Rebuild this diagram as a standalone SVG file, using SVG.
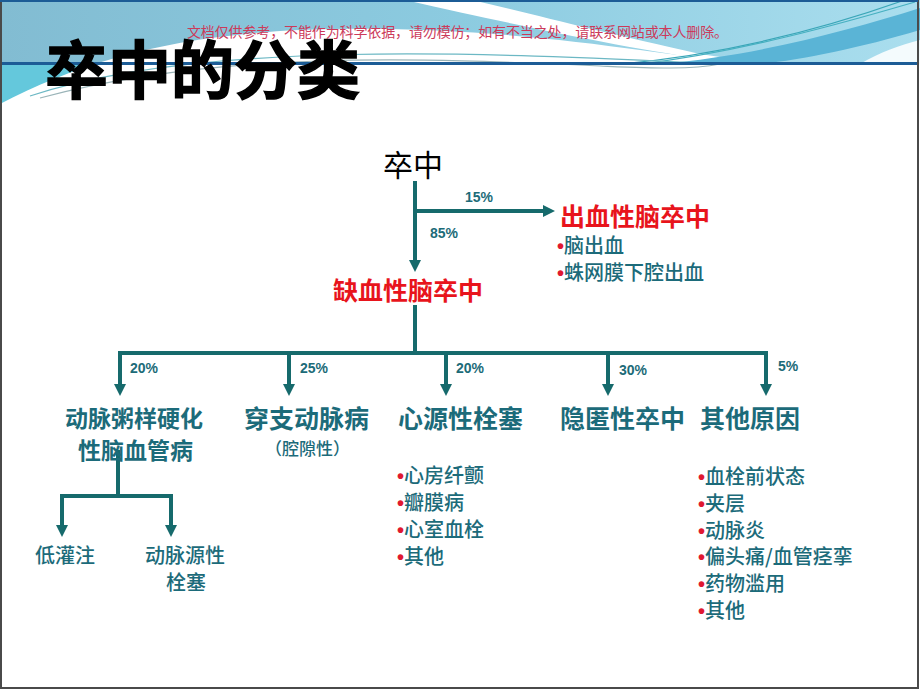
<svg xmlns="http://www.w3.org/2000/svg" width="920" height="690" viewBox="0 0 920 690">
<defs>
<linearGradient id="hdr" x1="0" y1="0" x2="1" y2="0">
<stop offset="0" stop-color="#82bcd2"/>
<stop offset="0.5" stop-color="#8ccbe0"/>
<stop offset="1" stop-color="#aadeee"/>
</linearGradient>
<marker id="arr" viewBox="0 0 12 12" markerWidth="12" markerHeight="12" markerUnits="userSpaceOnUse" refX="1" refY="6" orient="auto">
<path d="M0,0 L12,6 L0,12 Z" fill="#166a6c"/>
</marker>
<style>
.ln{fill:none;stroke:#166a6c;stroke-width:4;marker-end:url(#arr)}
.ln0{fill:none;stroke:#166a6c;stroke-width:4}
.pct{font-family:"Liberation Sans",Arial,sans-serif;font-weight:bold;font-size:14px;fill:#1c6b78}
.nd{font-family:"Noto Sans CJK SC",sans-serif;font-weight:bold;fill:#1c6b7a}
.tx{font-family:"Noto Sans CJK SC",sans-serif;font-weight:500;fill:#1c6b7a;font-size:20px}
.red{font-family:"Noto Sans CJK SC",sans-serif;font-weight:bold;fill:#e8141c;font-size:25px}
.bul{fill:#e01830;font-family:"Liberation Sans",sans-serif;font-weight:bold}
</style>
</defs>
<rect width="920" height="690" fill="#ffffff"/>
<!-- header -->
<rect x="0" y="0" width="920" height="64" fill="url(#hdr)"/>
<rect x="0" y="64" width="160" height="50" fill="#64c8dc"/>
<path d="M0,104 C80,62 170,36 300,30 C420,25 540,36 640,50 C690,57 730,62 780,64 L780,120 L0,120 Z" fill="#ffffff"/>
<path d="M405,0 L472,0 C540,16 600,32 700,54 L760,63 L730,63 C640,50 560,35 405,0 Z" fill="#ffffff"/>
<path d="M660,64 C760,55 850,30 920,8 L920,30 C860,48 800,60 760,64 Z" fill="#5ab4d6"/>
<path d="M860,64 C880,52 900,45 920,40 L920,64 Z" fill="#f4fbfd"/>
<g fill="none" stroke-width="1.2">
<path d="M620,64 C720,55 820,30 905,0" stroke="#3aa6b8"/>
<path d="M640,64 C740,52 840,24 915,2" stroke="#46b0c0"/>
<path d="M30,96 C200,40 480,52 720,64" stroke="#6cb8c4"/>
<path d="M40,98 C220,50 420,58 600,66 C650,68 690,70 720,64" stroke="#9ab4b8"/>
</g>
<rect x="0" y="62" width="918" height="3" fill="#1c5c96"/>
<rect x="1" y="1" width="917" height="687" fill="none" stroke="#4a4a4a" stroke-width="2"/>
<rect x="0" y="0" width="918" height="2" fill="#1c5c96"/>
<text x="187" y="37" font-family="Noto Sans CJK SC, sans-serif" font-size="14" fill="#cc3a5a" textLength="541">文档仅供参考，不能作为科学依据，请勿模仿；如有不当之处，请联系网站或本人删除。</text>
<text x="45" y="93" font-family="Noto Sans CJK SC, sans-serif" font-weight="bold" font-size="63" fill="#000" stroke="#000" stroke-width="1.5">卒中的分类</text>

<!-- connectors -->
<g id="connectors">
<path class="ln" d="M415,181 V261"/>
<path class="ln" d="M415,211 H544"/>
<path class="ln0" d="M415,305 V353"/>
<path class="ln0" d="M118,353 H768"/>
<path class="ln" d="M120,351 V385"/>
<path class="ln" d="M289,351 V385"/>
<path class="ln" d="M446,351 V385"/>
<path class="ln" d="M608,351 V385"/>
<path class="ln" d="M766,351 V385"/>
<path class="ln0" d="M118,450 V496"/>
<path class="ln0" d="M60,496 H173"/>
<path class="ln" d="M62,494 V526"/>
<path class="ln" d="M171,494 V526"/>
</g>
<g id="pct">
<text class="pct" x="465" y="202">15%</text>
<text class="pct" x="430" y="238">85%</text>
<text class="pct" x="130" y="373">20%</text>
<text class="pct" x="300" y="373">25%</text>
<text class="pct" x="456" y="373">20%</text>
<text class="pct" x="619" y="375">30%</text>
<text class="pct" x="778" y="371">5%</text>
</g>

<g id="root"><text x="383" y="176" font-family="Noto Sans CJK SC, sans-serif" font-size="30" fill="#000">卒中</text></g>
<g id="hemorrhagic">
<text class="red" x="560" y="226">出血性脑卒中</text>
<text class="tx" x="557" y="253"><tspan class="bul">•</tspan>脑出血</text>
<text class="tx" x="557" y="280"><tspan class="bul">•</tspan>蛛网膜下腔出血</text>
</g>
<g id="ischemic"><text class="red" x="333" y="299.5">缺血性脑卒中</text></g>
<g id="athero">
<text class="nd" x="65" y="427" font-size="23">动脉粥样硬化</text>
<text class="nd" x="78" y="459" font-size="23">性脑血管病</text>
</g>
<g id="perforating">
<text class="nd" x="244" y="427.5" font-size="25">穿支动脉病</text>
<text class="tx" x="265" y="454.5" style="font-size:17px">（腔隙性）</text>
</g>
<g id="cardio">
<text class="nd" x="398" y="427.5" font-size="25">心源性栓塞</text>
<text class="tx" x="397" y="482.6"><tspan class="bul">•</tspan>心房纤颤</text>
<text class="tx" x="397" y="509.6"><tspan class="bul">•</tspan>瓣膜病</text>
<text class="tx" x="397" y="536.6"><tspan class="bul">•</tspan>心室血栓</text>
<text class="tx" x="397" y="563.6"><tspan class="bul">•</tspan>其他</text>
</g>
<g id="cryptogenic"><text class="nd" x="560" y="427.5" font-size="25">隐匿性卒中</text></g>
<g id="other">
<text class="nd" x="700" y="427.5" font-size="25">其他原因</text>
<text class="tx" x="698" y="483.6"><tspan class="bul">•</tspan>血栓前状态</text>
<text class="tx" x="698" y="510.6"><tspan class="bul">•</tspan>夹层</text>
<text class="tx" x="698" y="537.6"><tspan class="bul">•</tspan>动脉炎</text>
<text class="tx" x="698" y="563.6"><tspan class="bul">•</tspan>偏头痛/血管痉挛</text>
<text class="tx" x="698" y="590.6"><tspan class="bul">•</tspan>药物滥用</text>
<text class="tx" x="698" y="617.6"><tspan class="bul">•</tspan>其他</text>
</g>
<g id="hypoperfusion"><text class="tx" x="35" y="562.6">低灌注</text></g>
<g id="artery-embolism">
<text class="tx" x="145" y="562.6">动脉源性</text>
<text class="tx" x="166" y="589.6">栓塞</text>
</g>
</svg>
